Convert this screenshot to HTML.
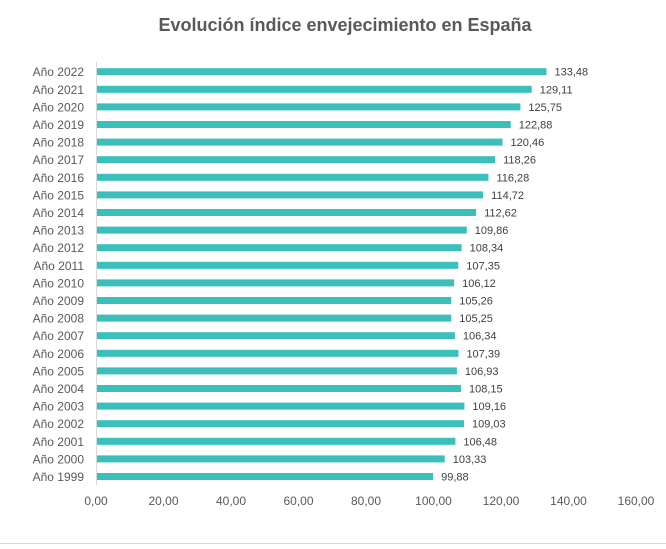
<!DOCTYPE html>
<html><head><meta charset="utf-8"><style>
body{margin:0;background:#fff;}
svg{display:block;font-family:"Liberation Sans",sans-serif;}
</style></head><body>
<svg width="666" height="549" viewBox="0 0 666 549">
<rect width="666" height="549" fill="#fff"/>
<line x1="0" y1="543.5" x2="666" y2="543.5" stroke="#d9d9d9"/>
<text x="345" y="31" text-anchor="middle" font-size="18" font-weight="bold" fill="#595959">Evolución índice envejecimiento en España</text>
<line x1="96.5" y1="62" x2="96.5" y2="485" stroke="#d9d9d9"/>
<g id="bars" font-size="11" fill="#404040"></g>
<g font-size="12" fill="#595959" text-anchor="middle">
<text x="96" y="505">0,00</text><text x="163.5" y="505">20,00</text><text x="231" y="505">40,00</text><text x="298.5" y="505">60,00</text><text x="366" y="505">80,00</text><text x="433.5" y="505">100,00</text><text x="501" y="505">120,00</text><text x="568.5" y="505">140,00</text><text x="636" y="505">160,00</text>
</g>
</svg>
<script>
var v=[99.88,103.33,106.48,109.03,109.16,108.15,106.93,107.39,106.34,105.25,105.26,106.12,107.35,108.34,109.86,112.62,114.72,116.28,118.26,120.46,122.88,125.75,129.11,133.48];
var g=document.getElementById('bars'),s='';
for(var i=0;i<24;i++){var y=476.5-i*17.6,w=v[i]*3.375;
s+='<rect x="97" y="'+(y-3.5)+'" width="'+(w-1)+'" height="7" fill="#3bbfbb"/>';
s+='<text x="'+(96+w+8)+'" y="'+(y+4)+'">'+v[i].toFixed(2).replace('.',',')+'</text>';
s+='<text x="84" y="'+(y+4.5)+'" text-anchor="end" font-size="12" fill="#595959">Año '+(1999+i)+'</text>';}
g.innerHTML=s;
</script>
</body></html>
